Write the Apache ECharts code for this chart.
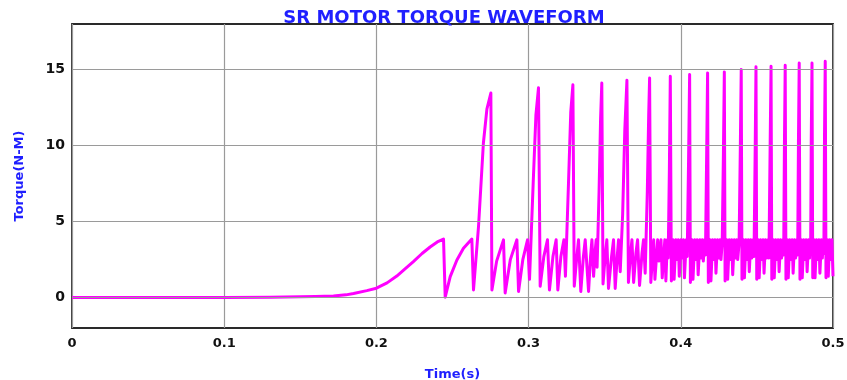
<!DOCTYPE html>
<html>
<head>
<meta charset="utf-8">
<script src="https://cdn.jsdelivr.net/npm/echarts@6/dist/echarts.min.js"></script>
<style>
  html, body { margin: 0; padding: 0; background: #fff; }
  #container { width: 847px; height: 380px; }
</style>
</head>
<body>
<div id="container"></div>
<script>
// data: [time (s), torque (N-M)]
const rampPts = [
  [0, 0], [0.05, 0], [0.1, 0], [0.13, 0.02], [0.15, 0.05], [0.16, 0.07],
  [0.1718, 0.11], [0.18, 0.18], [0.185, 0.27], [0.1937, 0.46], [0.2, 0.62],
  [0.207, 0.97], [0.2134, 1.42], [0.219, 1.9], [0.2243, 2.37], [0.23, 2.9],
  [0.2353, 3.33], [0.24, 3.66], [0.2441, 3.85],
  [0.2452, 0.03], [0.2485, 1.38], [0.2529, 2.47], [0.2572, 3.24], [0.2627, 3.85],
  [0.2638, 0.5]
];
const burstA = [
  [0.2671, 4.68], [0.2703, 10.17], [0.2726, 12.4], [0.2752, 13.46], [0.2759, 0.5],
  [0.279, 2.4], [0.2835, 3.8], [0.2846, 0.3], [0.288, 2.5], [0.2923, 3.8],
  [0.2934, 0.4], [0.2962, 2.5], [0.2993, 3.8], [0.3006, 1.2],
  [0.303, 7.5], [0.3048, 12.0], [0.3065, 13.8], [0.3076, 0.75],
  [0.31, 2.7], [0.3124, 3.8], [0.3137, 0.5], [0.316, 2.7], [0.3181, 3.8],
  [0.3192, 0.5], [0.3212, 2.7], [0.3232, 3.8], [0.3242, 1.4],
  [0.3262, 7.5], [0.3277, 12.2], [0.3291, 14.0], [0.33, 0.75]
];
const burstB = [
  [0.3316, 2.6], [0.3328, 3.8], [0.3343, 0.4], [0.336, 2.7], [0.3372, 3.8],
  [0.3394, 0.4], [0.3407, 2.7], [0.3416, 3.8], [0.3427, 1.4], [0.3437, 3.0],
  [0.3444, 3.8], [0.345, 2.0], [0.3463, 7.0], [0.3473, 11.8], [0.3481, 14.12],
  [0.3489, 0.9],
  [0.3503, 2.7], [0.3514, 3.8], [0.3525, 0.6], [0.3545, 2.7], [0.3558, 3.8],
  [0.3569, 0.6], [0.3583, 2.8], [0.3591, 3.8], [0.3602, 1.7], [0.3618, 5.5],
  [0.3632, 11.0], [0.3646, 14.3], [0.3656, 1.0],
  [0.367, 2.9], [0.3679, 3.8], [0.369, 1.0], [0.3705, 2.9], [0.3716, 3.8],
  [0.3729, 0.8], [0.3745, 2.9], [0.3755, 3.8], [0.3766, 1.6], [0.378, 7.0],
  [0.3789, 12.0], [0.3795, 14.45], [0.3803, 1.0]
];
const burstC = [
  [0.3822, 3.8], [0.383, 1.2], [0.3848, 3.8], [0.3856, 2.4], [0.387, 3.8],
  [0.3878, 1.3], [0.3895, 3.8], [0.3902, 1.1], [0.3912, 3.8], [0.3917, 2.6],
  [0.3925, 8.5], [0.3931, 14.56], [0.3938, 1.1],
  [0.395, 3.8], [0.3956, 1.2], [0.3968, 3.8], [0.3974, 2.5], [0.3984, 3.8],
  [0.399, 1.4], [0.4002, 3.8], [0.4008, 2.6], [0.4018, 3.8], [0.4024, 1.3],
  [0.4036, 3.8], [0.4042, 2.7], [0.4051, 9.0], [0.4058, 14.67], [0.4063, 1.0],
  [0.4074, 3.8], [0.408, 1.2], [0.4092, 3.8], [0.4098, 2.5], [0.4108, 3.8],
  [0.4114, 1.5], [0.4126, 3.8], [0.4132, 2.6], [0.4142, 3.8], [0.4148, 2.4],
  [0.4158, 3.8], [0.4162, 2.8], [0.417, 9.5], [0.4176, 14.78], [0.4181, 1.0],
  [0.4192, 3.8], [0.4198, 1.1], [0.4209, 3.8], [0.4215, 2.5], [0.4225, 3.8],
  [0.4231, 1.6], [0.4242, 3.8], [0.4248, 2.6], [0.4258, 3.8], [0.4264, 2.5],
  [0.4272, 3.6], [0.428, 9.5], [0.4286, 14.85], [0.4291, 1.1],
  [0.4302, 3.8], [0.4308, 1.2], [0.4319, 3.8], [0.4325, 2.5], [0.4335, 3.8],
  [0.4341, 1.5], [0.4352, 3.8], [0.4358, 2.6], [0.4368, 3.8], [0.4374, 2.5],
  [0.4383, 3.6], [0.4391, 9.8], [0.4397, 15.0], [0.4402, 1.2]
];
const burstD = [
  [0.4412, 3.8], [0.4418, 1.3], [0.4428, 3.8], [0.4434, 2.5], [0.4444, 3.8],
  [0.445, 1.7], [0.446, 3.8], [0.4466, 2.6], [0.4476, 3.8], [0.4481, 2.7],
  [0.4489, 10.0], [0.4494, 15.18], [0.4499, 1.2],
  [0.4509, 3.8], [0.4515, 1.3], [0.4525, 3.8], [0.4531, 2.5], [0.4541, 3.8],
  [0.4547, 1.6], [0.4557, 3.8], [0.4563, 2.6], [0.4573, 3.8], [0.4579, 2.6],
  [0.4587, 10.0], [0.4593, 15.22], [0.4598, 1.2],
  [0.4608, 3.8], [0.4614, 1.3], [0.4624, 3.8], [0.463, 2.5], [0.464, 3.8],
  [0.4646, 1.7], [0.4656, 3.8], [0.4662, 2.6], [0.4672, 3.8], [0.4676, 2.8],
  [0.4681, 10.2], [0.4686, 15.28], [0.4691, 1.2],
  [0.47, 3.8], [0.4706, 1.3], [0.4716, 3.8], [0.4722, 2.5], [0.4732, 3.8],
  [0.4738, 1.6], [0.4748, 3.8], [0.4754, 2.6], [0.4764, 3.8], [0.4768, 2.8],
  [0.4773, 10.3], [0.4778, 15.44], [0.4783, 1.2],
  [0.4792, 3.8], [0.4798, 1.3], [0.4808, 3.8], [0.4814, 2.5], [0.4824, 3.8],
  [0.483, 1.7], [0.484, 3.8], [0.4846, 2.6], [0.485, 3.8], [0.4853, 2.9],
  [0.4857, 10.3], [0.4862, 15.44], [0.4867, 1.3],
  [0.4876, 3.8], [0.4882, 1.3], [0.4892, 3.8], [0.4898, 2.5], [0.4908, 3.8],
  [0.4914, 1.6], [0.4924, 3.8], [0.493, 2.6], [0.4937, 3.8], [0.494, 2.9],
  [0.4944, 10.4], [0.4949, 15.55], [0.4954, 1.3],
  [0.4963, 3.8], [0.4969, 1.4], [0.4978, 3.8], [0.4984, 2.5], [0.4993, 3.8],
  [0.5, 1.4]
];
const yGridLines = [0, 5, 10, 15];

// function: draw the scope trace
function echartSetup(container) {
  let myChart = echarts.init(document.getElementById(container)),
    blue = "#1f1fff",
    gridGrey = "#9a9a9a",
    torque = rampPts.concat(burstA, burstB, burstC, burstD),
    option;

  option = {
    animation: false,
    backgroundColor: "#fff",
    textStyle: { fontFamily: "DejaVu Sans" },
    title: {
      text: "SR MOTOR TORQUE WAVEFORM",
      left: 439,
      textAlign: "center",
      top: 4,
      textStyle: {
        color: blue,
        fontSize: 18,
        fontWeight: "bold",
        fontFamily: "DejaVu Sans"
      }
    },
    grid: {
      left: 72,
      right: 14,
      top: 24,
      bottom: 52,
      outerBoundsMode: "none",
      show: true,
      borderColor: "#2a2a2a",
      borderWidth: 1.8
    },
    xAxis: {
      type: "value",
      min: 0,
      max: 0.5,
      interval: 0.1,
      name: "Time(s)",
      nameLocation: "middle",
      nameGap: 40,
      nameTextStyle: { color: blue, fontSize: 13, fontWeight: "bold" },
      axisLine: { show: false },
      axisTick: { show: false },
      axisLabel: {
        color: "#111",
        fontSize: 13,
        fontWeight: "bold",
        margin: 9,
        formatter: function (v) {
          return v === 0 ? "0" : v.toFixed(1);
        }
      },
      splitLine: { show: true, lineStyle: { color: gridGrey, width: 1.2 } }
    },
    yAxis: {
      type: "value",
      min: -2,
      max: 18,
      interval: 1,
      name: "Torque(N-M)",
      nameLocation: "middle",
      nameGap: 46,
      nameTextStyle: { color: blue, fontSize: 13, fontWeight: "bold" },
      axisLine: { show: false },
      axisTick: { show: false },
      axisLabel: {
        color: "#111",
        fontSize: 14,
        fontWeight: "bold",
        margin: 7,
        formatter: function (v) {
          return v % 5 === 0 ? String(v) : "";
        }
      },
      splitLine: { show: false }
    },
    series: [
      {
        // horizontal grid only at the labelled values
        type: "line",
        data: [],
        z: 1,
        silent: true,
        markLine: {
          silent: true,
          symbol: "none",
          label: { show: false },
          lineStyle: { color: gridGrey, width: 1.2, type: "solid" },
          data: yGridLines.map(function (v) {
            return { yAxis: v };
          })
        }
      },
      {
        name: "Torque",
        type: "line",
        z: 3,
        showSymbol: false,
        lineStyle: { color: "#ff00ff", width: 3, join: "round" },
        itemStyle: { color: "#ff00ff" },
        data: torque
      }
    ]
  };
  myChart.setOption(option);
}

echartSetup("container");
</script>
</body>
</html>
